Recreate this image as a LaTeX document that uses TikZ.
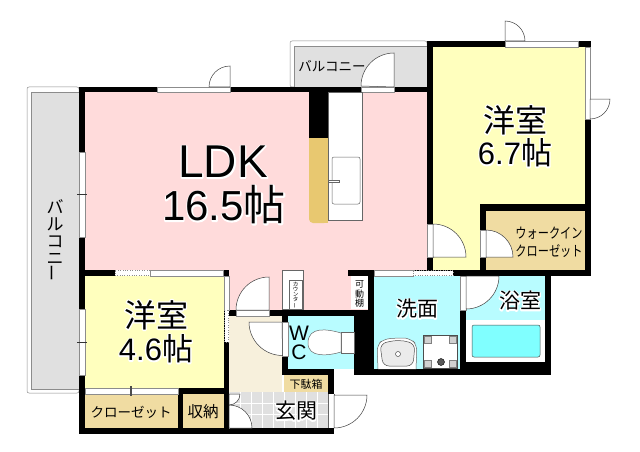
\documentclass[tikz,border=0pt]{standalone}
\usepackage{fontspec}
\usepackage{xcolor}
\setmainfont{Noto Sans CJK JP}
\newfontfamily\latinfont{Liberation Sans}
\usetikzlibrary{positioning}
\definecolor{pinkroom}{HTML}{FFDBDB}
\definecolor{yellowroom}{HTML}{FFFFBE}
\definecolor{tanroom}{HTML}{F0DCA2}
\definecolor{goldcab}{HTML}{E8C870}
\definecolor{cyanroom}{HTML}{B8FCFF}
\definecolor{tubcyan}{HTML}{80FFFF}
\definecolor{greydeck}{HTML}{E0E0E0}
\definecolor{hallfloor}{HTML}{F7F0DC}
\newcommand{\halo}[1]{\rlap{\special{pdf:code q 2 Tr 1 1 1 rg 1 1 1 RG 2.6 w 1 j}#1\special{pdf:code Q}}#1}
\newcommand{\fs}[1]{\fontsize{#1}{#1}\selectfont}
\newcommand{\fsb}[2]{\fontsize{#1}{#2}\selectfont}

\begin{document}
\begin{tikzpicture}[
    x=1pt, y=-1pt,
    wall/.style={fill=black},
    deck/.style={fill=greydeck, draw=black!45, line width=0.5pt},
    deckedge/.style={fill=white, draw=black!45, line width=0.5pt, rounded corners=2pt},
    opening/.style={fill=white, draw=black!45, line width=0.4pt},
    doorleaf/.style={fill=white, draw=black!75, line width=0.5pt},
    fixture/.style={fill=white, draw=black!60, line width=0.5pt},
    roomlabel/.style={inner sep=0pt, font=\fs{32}},
    arealabel/.style={inner sep=0pt, font=\fs{31}},
    smalllabel/.style={inner sep=0pt, align=center},
]
\useasboundingbox (0,0) rectangle (640,452);

% Balconies
\draw[deckedge] (27,87) rectangle (79,393);
\draw[deck] (31.5,92) rectangle (79,389);
\draw[deckedge] (290,41) rectangle (427,87);
\draw[deck] (294,46) rectangle (427,87);

% Room floors
\fill[pinkroom] (85,92) rectangle (427,270);
\fill[pinkroom] (229,270) rectangle (374,310);
\fill[yellowroom] (433,47) rectangle (585,204);
\fill[yellowroom] (433,204) rectangle (480,270);
\fill[yellowroom] (85,276) rectangle (224,388);
\fill[tanroom] (486,211) rectangle (585,270);
\fill[tanroom] (85,394) rectangle (178,428);
\fill[tanroom] (183,394) rectangle (224,428);
\fill[hallfloor] (229,316) rectangle (282,392);
\fill[tanroom] (284,375) rectangle (328,392);
\fill[greydeck] (229,392) rectangle (328,428);
\foreach \xline in {240,251,262,273,284,295,306,317}
    \draw[white, line width=0.5pt] (\xline,392) -- (\xline,428);
\foreach \yline in {403,414}
    \draw[white, line width=0.5pt] (229,\yline) -- (328,\yline);
\fill[cyanroom] (288,316) rectangle (354,369);
\fill[cyanroom] (374,276) rectangle (460,369);
\fill[cyanroom] (466,276) rectangle (545,320);

% Outer and inner walls
\fill[wall] (79,87) rectangle (433,92);
\fill[wall] (427,41) rectangle (590.5,47);
\fill[wall] (79,87) rectangle (85,434);
\fill[wall] (427,41) rectangle (433,276);
\fill[wall] (585,41) rectangle (590.5,276);
\fill[wall] (480,204) rectangle (590,211);
\fill[wall] (480,204) rectangle (486,276);
\fill[wall] (348,270) rectangle (590.5,276);
\fill[wall] (79,270) rectangle (115,276);
\fill[wall] (223,270) rectangle (229,276);
\fill[wall] (224,310) rectangle (229,394);
\fill[wall] (226,310) rectangle (374,316);
\fill[wall] (282,316) rectangle (288,375);
\fill[wall] (282,369) rectangle (334,375);
\fill[wall] (354,316) rectangle (374,375);
\fill[wall] (368,270) rectangle (374,375);
\fill[wall] (374,369) rectangle (551,375);
\fill[wall] (460,310) rectangle (466,375);
\fill[wall] (545,276) rectangle (551,375);
\fill[wall] (466,362) rectangle (551,375);
\fill[wall] (328,369) rectangle (334,395);
\fill[wall] (178,388) rectangle (229,394);
\fill[wall] (178,388) rectangle (183,434);
\fill[wall] (224,388) rectangle (229,434);
\fill[wall] (79,428) rectangle (334,434);
\fill[wall] (309,92) rectangle (328,138);

% Windows and sliding doors
\draw[opening] (157,87) rectangle (230,92);
\draw[opening] (361,87) rectangle (394,92);
\draw[opening] (505,41) rectangle (578,47);
\draw[opening] (585,47) rectangle (590,119);
\draw[opening] (79,152) rectangle (85,237);
\draw[opening] (79,309) rectangle (85,375);
\draw[black!80, line width=0.4pt] (77,194) -- (87,194);
\draw[black!80, line width=0.4pt] (77,342) -- (87,342);
\draw[opening] (150,270) rectangle (223,276);
\draw[opening, dotted] (115,270.5) rectangle (150,275.5);
\draw[opening] (224,276) rectangle (229,310);
\draw[opening, dotted] (224.5,310) rectangle (228.5,342);
\draw[opening] (374,270) rectangle (413,276);
\draw[opening, dotted] (413,270.5) rectangle (453,275.5);
\draw[opening] (85,388) rectangle (178,394);
\draw[black!70, line width=0.4pt] (130,386) -- (130,396);
\draw[black!70, line width=0.4pt] (131,386) -- (131,396);
\draw[opening] (427,224) rectangle (433,257);
\draw[opening] (480,230) rectangle (486,257);
\draw[opening] (460,276) rectangle (466,310);
\draw[opening] (236,310) rectangle (269,316);
\draw[opening] (282,322) rectangle (288,356);
\draw[opening] (229,394) rectangle (229.5,428);
\fill[white] (328,394) rectangle (334,428);
\draw[black!60, line width=0.4pt] (328,394) -- (328,428);
\draw[black!60, line width=0.4pt] (334,394) -- (334,428);

% Door swings
\draw[doorleaf] (230,87) -- (230,66) arc[start angle=270, end angle=180, radius=21] -- cycle;
\draw[doorleaf] (394,87) -- (394,53) arc[start angle=270, end angle=180, radius=33] -- cycle;
\draw[doorleaf] (505,41) -- (505,21) arc[start angle=270, end angle=360, radius=20] -- cycle;
\draw[doorleaf] (590,99) -- (610,99) arc[start angle=0, end angle=90, radius=20] -- cycle;
\draw[doorleaf] (433,257) -- (433,224) arc[start angle=270, end angle=360, radius=33] -- cycle;
\draw[doorleaf] (486,257) -- (486,230) arc[start angle=270, end angle=360, radius=27] -- cycle;
\draw[doorleaf] (466,276) -- (499,276) arc[start angle=0, end angle=90, radius=33] -- cycle;
\draw[doorleaf] (269,310) -- (269,277) arc[start angle=270, end angle=180, radius=33] -- cycle;
\draw[doorleaf] (282,322) -- (249,322) arc[start angle=180, end angle=90, radius=33.5] -- cycle;
\draw[doorleaf] (334,395) -- (367,395) arc[start angle=0, end angle=90, radius=33] -- cycle;
\draw[doorleaf] (229,428) -- (229,405) arc[start angle=270, end angle=360, radius=23] -- cycle;
\draw[doorleaf] (229,394) -- (240,394) arc[start angle=0, end angle=90, radius=11] -- cycle;

% Kitchen
\fill[goldcab, rounded corners=4pt] (309,138) -- (328,138) -- (328,223) -- (309,223) -- cycle;
\fill[goldcab] (309,138) rectangle (328,150);
\fill[goldcab] (318,210) rectangle (328,223);
\draw[fixture] (328,92) rectangle (362,220.5);
\draw[fixture, rounded corners=2pt] (332,157) rectangle (360,204);
\draw[fixture] (328,180) rectangle (339,182.5);

% Counter and shelf
\draw[fixture] (282,270) rectangle (303,309);
\draw[fixture] (289,280) rectangle (302,309);
\draw[fixture, draw=none] (351,276) rectangle (368,309);

% Toilet
\draw[fixture] (341,332) rectangle (354,353);
\draw[fixture] (341,333) .. controls (328,329) and (308,326) .. (308,343) .. controls (308,358) and (328,356) .. (341,352) -- cycle;

% Basin and washer pan
\draw[fixture, rounded corners=6pt] (378,369) -- (377,345) -- (384,339) .. controls (397,338) and (405,338) .. (411,339) -- (417,345) -- (416,369);
\draw[fill=black!8, draw=black!70, line width=0.5pt, rounded corners=6pt] (380,344) .. controls (395,340) and (402,340) .. (415,344) -- (413,366) -- (383,366) -- cycle;
\draw[fill=white, draw=black!70, line width=0.5pt] (398,354) circle[radius=2.5];
\draw[fill=white, draw=black!70, line width=0.7pt] (423,335) rectangle (457,368);
\foreach \xcorner/\ycorner in {424/336,449/336,424/360,449/360}
    \draw[fill=black!18, draw=black!50, line width=0.3pt] (\xcorner,\ycorner) rectangle ++(7,7);
\draw[fill=black!65, draw=black] (441,362) circle[radius=3.5];

% Bathtub
\fill[white] (466,320) rectangle (545,362);
\draw[fill=tubcyan, draw=black!70, line width=0.5pt, rounded corners=2pt] (472,325) rectangle (540,357);

% Room labels
\node[roomlabel] (ldkname) at (223,162) {\latinfont\fs{46}\halo{LDK}};
\node[arealabel] (ldkarea) at (224,205) {\fs{42}\halo{{\latinfont 16.5}帖}};
\node[roomlabel] (westnorth) at (515,120) {\halo{洋室}};
\node[arealabel] (westnortharea) at (515,153) {\halo{{\latinfont 6.7}帖}};
\node[roomlabel] (westsouth) at (156,315) {\halo{洋室}};
\node[arealabel] (westsoutharea) at (156,349) {\halo{{\latinfont 4.6}帖}};
\node[smalllabel, font=\fs{21}] (washroom) at (417,309) {\halo{洗面}};
\node[smalllabel, font=\fs{21}] (bathroom) at (520,301) {\halo{浴室}};
\node[smalllabel, font=\fs{21}] (entrance) at (296,411) {\halo{玄関}};
\node[smalllabel, font=\latinfont\fs{21}] (wcw) at (299,333) {W};
\node[smalllabel, font=\latinfont\fs{21}] (wcc) at (299,352) {C};
\node[smalllabel, font=\fs{13.5}] (closet) at (131,412) {クローゼット};
\node[smalllabel, font=\fs{15.5}] (storage) at (203,412) {収納};
\node[smalllabel, font=\fs{11}] (shoebox) at (306,384) {下駄箱};
\node[smalllabel, font=\fs{13.5}] (topdeck) at (332,66.5) {バルコニー};
\node[smalllabel, font=\fsb{13}{18}] (walkin) at (549,242) {\scalebox{.86}[1.1]{ウォークイン}\\\scalebox{.86}[1.1]{クローゼット}};
\node[smalllabel, font=\fsb{9}{9.5}] (shelf) at (359.5,294) {可\\動\\棚};
\node[smalllabel, font=\fsb{5.5}{5}] (counter) at (295.5,295) {カ\\ウ\\ン\\タ\\\rotatebox{90}{ー}};
\node[smalllabel, font=\fsb{17}{17}] (leftdeck) at (55,241) {バ\\ル\\コ\\ニ\\\rotatebox{90}{ー}};

\end{tikzpicture}
\end{document}
